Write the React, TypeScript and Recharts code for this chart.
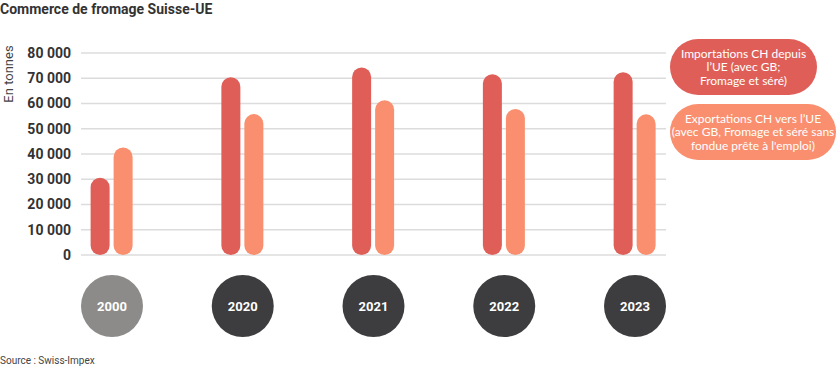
import React from 'react'
import { BarChart, Bar, XAxis, YAxis, CartesianGrid } from 'recharts'

const years = ['2000', '2020', '2021', '2022', '2023']
const importsCH = [30600, 70400, 74300, 71600, 72400]
const exportsCH = [42600, 55800, 61300, 57800, 55700]
const yTicks = [0, 10000, 20000, 30000, 40000, 50000, 60000, 70000, 80000]
const seriesNames = [
  'Importations CH depuis\nl\u2019UE (avec GB;\nFromage et séré)',
  'Exportations CH vers l\u2019UE\n(avec GB, Fromage et séré sans\nfondue prête à l\'emploi)',
]

const IMPORT_COLOR = '#df5f58'
const EXPORT_COLOR = '#f98f6e'
const FONT = 'Roboto, "Open Sans", sans-serif'
const LEGEND_FONT = 'Lato, Roboto, sans-serif'

const data = years.map((year, i) => ({
  idx: i,
  year,
  imports: importsCH[i],
  exports: exportsCH[i],
}))

const fmt = (v: number) => {
  const s = String(v)
  return s.length > 3 ? s.slice(0, s.length - 3) + ' ' + s.slice(-3) : s
}

function YearTick(props: any) {
  const { x, y, payload } = props
  const i = payload.value as number
  return (
    <g>
      <circle cx={x} cy={y + 51} r={31} fill={i === 0 ? '#8c8b89' : '#3d3c3e'} />
      <text x={x} y={y + 55.5} textAnchor="middle" fill="#fff" fontSize={13} fontWeight={700} fontFamily={FONT}>
        {years[i]}
      </text>
    </g>
  )
}

const pillStyle = (bg: string, width: number, top: number): React.CSSProperties => ({
  position: 'absolute',
  left: 670,
  top,
  width,
  height: 56,
  borderRadius: 28,
  background: bg,
  color: '#fff',
  fontFamily: LEGEND_FONT,
  fontSize: 12,
  lineHeight: '13.5px',
  whiteSpace: 'pre',
  textAlign: 'center',
  display: 'flex',
  alignItems: 'center',
  justifyContent: 'center',
})

export default function App() {
  return (
    <div style={{ position: 'absolute', left: 0, top: 0, width: 836, height: 368, background: '#fff', fontFamily: FONT }}>
      <div style={{ position: 'absolute', left: 0, top: 1, fontSize: 14, fontWeight: 700, color: '#333' }}>
        Commerce de fromage Suisse-UE
      </div>
      <div
        style={{
          position: 'absolute',
          left: 8,
          top: 74,
          fontSize: 13,
          color: '#444',
          transform: 'translate(-50%, -50%) rotate(-90deg)',
          whiteSpace: 'nowrap',
        }}
      >
        En tonnes
      </div>
      <div style={{ position: 'absolute', left: 0, top: 355, fontSize: 10, color: '#444' }}>Source : Swiss-Impex</div>
      <BarChart
        width={836}
        height={368}
        data={data}
        margin={{ top: 53, right: 170, bottom: 33, left: 21 }}
        barGap={4}
        barSize={19}
      >
        <CartesianGrid vertical={false} stroke="#dcdcdc" strokeWidth={1.5} />
        <YAxis
          width={60}
          domain={[0, 80000]}
          ticks={yTicks}
          tickFormatter={fmt}
          axisLine={false}
          tickLine={false}
          tickSize={8}
          tickMargin={2}
          tick={{ fill: '#333', fontSize: 14, fontWeight: 700, fontFamily: FONT }}
        />
        <XAxis
          type="number"
          dataKey="idx"
          domain={[-0.237, 4.237]}
          ticks={[0, 1, 2, 3, 4]}
          interval={0}
          height={80}
          axisLine={false}
          tickLine={false}
          tickSize={0}
          tickMargin={0}
          tick={<YearTick />}
        />
        <Bar dataKey="imports" name={seriesNames[0]} fill={IMPORT_COLOR} radius={[9.5, 9.5, 9.5, 9.5]} isAnimationActive={false} />
        <Bar dataKey="exports" name={seriesNames[1]} fill={EXPORT_COLOR} radius={[9.5, 9.5, 9.5, 9.5]} isAnimationActive={false} />
      </BarChart>
      <div style={pillStyle(IMPORT_COLOR, 147, 39)}>{seriesNames[0]}</div>
      <div style={pillStyle(EXPORT_COLOR, 166, 104)}>{seriesNames[1]}</div>
    </div>
  )
}
